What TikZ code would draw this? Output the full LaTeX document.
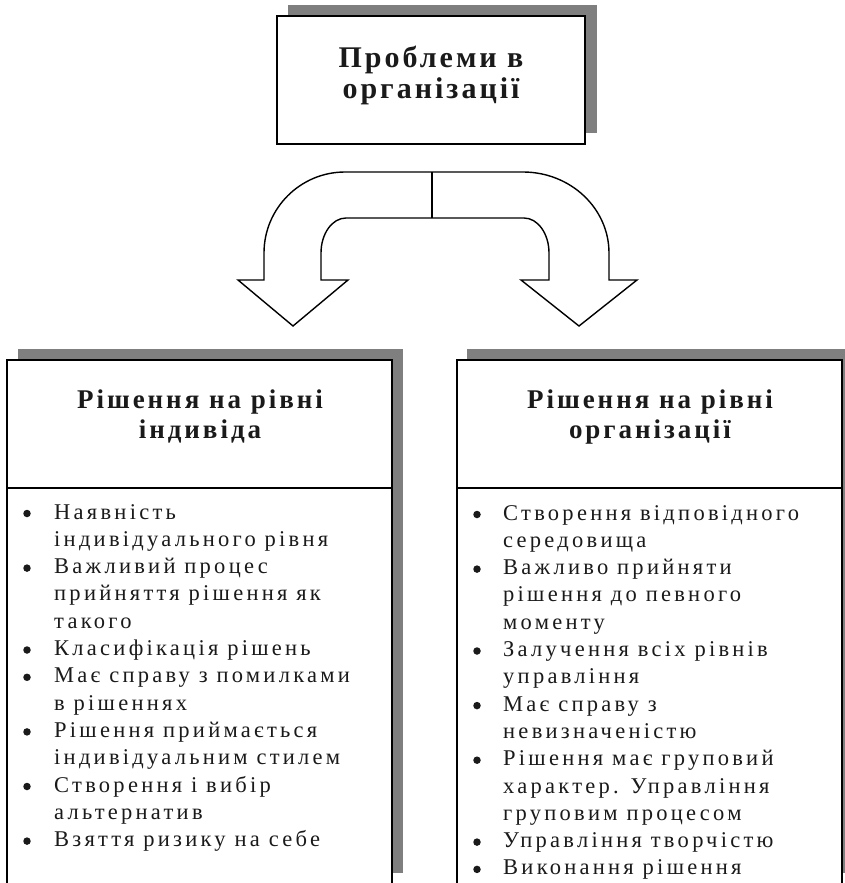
\documentclass[tikz,border=0pt]{standalone}
\usepackage{fontspec}
\setmainfont{Liberation Serif}
\newfontfamily\titlefont[LetterSpace=10]{Liberation Serif}
\newfontfamily\headfont[LetterSpace=11]{Liberation Serif}
\newfontfamily\itemfont[LetterSpace=14.5]{Liberation Serif}
\definecolor{shadowgray}{HTML}{7F7F7F}
\definecolor{ink}{HTML}{1A1A1A}
\begin{document}
\begin{tikzpicture}[x=1pt,y=-1pt,
  frame/.style={draw=black, line width=1.4pt, fill=white},
  rule/.style={draw=black, line width=1.4pt},
  shade/.style={fill=shadowgray, draw=none},
  title/.style={font=\titlefont\bfseries\fontsize{30}{31}\selectfont, text=ink, anchor=base, inner sep=0pt},
  head/.style={font=\headfont\bfseries\fontsize{27}{30}\selectfont, text=ink, anchor=base, inner sep=0pt},
  itemtext/.style={font=\itemfont\fontsize{22.5}{27}\selectfont, text=ink, anchor=base west, inner sep=0pt},
  dot/.style={circle, fill=ink, draw=none, inner sep=0pt, minimum size=7.5pt}]
\useasboundingbox (0,0) rectangle (845,883);
\clip (0,0) rectangle (845,883);

% top box with its drop shadow
\fill[shade] (288,5) rectangle (597,133);
\draw[frame] (277,16) rectangle (585,144);
\node[title] (t1) at (431,67) {Проблеми в};
\node[title] (t2) at (431,98) {організації};

% forked block arrow
\draw[frame, line join=miter]
  (293,326) -- (238,280) -- (264,280) -- (264,253)
  .. controls (264,208.3) and (300.3,172) .. (345,172) -- (523,172)
  .. controls (570.5,172) and (609,208.3) .. (609,253) -- (609,280)
  -- (637,280) -- (579,326) -- (521,280) -- (549,280) -- (549,253)
  .. controls (549,233.7) and (537.8,218) .. (524,218) -- (346,218)
  .. controls (332.2,218) and (321,233.7) .. (321,253) -- (321,280)
  -- (348,280) -- cycle;
\coordinate (forktop) at (432,172);
\coordinate (forkbottom) at (432,218);
\draw[rule] (forktop) -- (forkbottom);

% left panel
\fill[shade] (18,349) rectangle (403,873);
\draw[frame] (7,360) rectangle (392,886);
\coordinate (ldivl) at (7,488);
\coordinate (ldivr) at (392,488);
\draw[rule] (ldivl) -- (ldivr);
\node[head] (lh1) at (200,408) {Рішення на рівні};
\node[head] (lh2) at (200,438) {індивіда};

% right panel
\fill[shade] (467,349) rectangle (853,873);
\draw[frame] (457,360) rectangle (842,886);
\coordinate (rdivl) at (457,488);
\coordinate (rdivr) at (842,488);
\draw[rule] (rdivl) -- (rdivr);
\node[head] (rh1) at (650,408) {Рішення на рівні};
\node[head] (rh2) at (650,438) {організації};

% left list: 1 marks the first line of an item
\foreach \b/\t [count=\i] in {
  1/Наявність, 0/індивідуального рівня, 1/Важливий процес,
  0/прийняття рішення як, 0/такого, 1/Класифікація рішень,
  1/Має справу з помилками, 0/в рішеннях, 1/Рішення приймається,
  0/індивідуальним стилем, 1/Створення і вибір, 0/альтернатив,
  1/Взяття ризику на себе}{
  \node[itemtext] (L\i) at (54,{519+(\i-1)*27.3}) {\t};
  \ifnum\b=1 \node[dot] (LB\i) at (27,{513.5+(\i-1)*27.3}) {};\fi
}

% right list
\foreach \b/\t [count=\i] in {
  1/Створення відповідного, 0/середовища, 1/Важливо прийняти,
  0/рішення до певного, 0/моменту, 1/Залучення всіх рівнів,
  0/управління, 1/Має справу з, 0/невизначеністю,
  1/Рішення має груповий, 0/характер. Управління,
  0/груповим процесом, 1/Управління творчістю, 1/Виконання рішення}{
  \node[itemtext] (R\i) at (503,{520+(\i-1)*27.3}) {\t};
  \ifnum\b=1 \node[dot] (RB\i) at (477,{514.5+(\i-1)*27.3}) {};\fi
}
\end{tikzpicture}
\end{document}
